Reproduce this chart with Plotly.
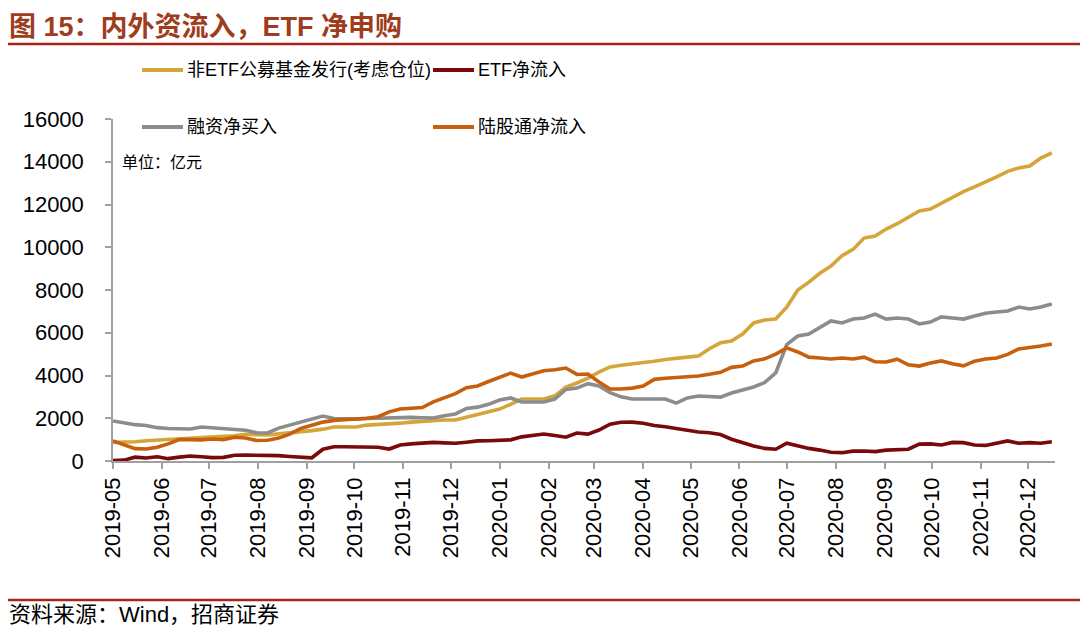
import pandas as pd
import plotly.graph_objects as go

# ---- data (亿元), weekly observations ----
dates = pd.date_range("2019-05-01", periods=86, freq="7D")

fund_issue = [870, 880, 900, 950, 980, 1020, 1080, 1110, 1140, 1150,
              1160, 1180, 1250, 1230, 1220, 1270, 1310, 1370, 1420, 1490,
              1590, 1590, 1590, 1680, 1700, 1730, 1770, 1820, 1860, 1880,
              1920, 1920, 2050, 2200, 2320, 2430, 2650, 2900, 2900, 2900,
              3050, 3460, 3650, 3880, 4160, 4400, 4480, 4530, 4580, 4670,
              4750, 4820, 4860, 4910, 5250, 5530, 5610, 5940, 6460, 6600,
              6640, 7200, 8000, 8370, 8780, 9120, 9600, 9900, 10430, 10520,
              10850, 11100, 11410, 11700, 11790, 12070, 12330, 12600, 12820, 13040,
              13290, 13550, 13710, 13800, 14170, 14410]

etf_flow = [20, 40, 180, 140, 200, 110, 180, 230, 200, 160,
            170, 270, 280, 280, 280, 250, 210, 170, 150, 550,
            670, 670, 670, 670, 640, 560, 750, 800, 830, 870,
            850, 830, 880, 940, 950, 970, 990, 1130, 1200, 1260,
            1190, 1110, 1310, 1260, 1450, 1720, 1810, 1820, 1770, 1660,
            1600, 1510, 1430, 1360, 1320, 1240, 1020, 860, 700, 590,
            550, 830, 700, 590, 510, 410, 390, 460, 470, 440,
            510, 550, 550, 790, 800, 750, 870, 860, 750, 730,
            830, 940, 830, 860, 830, 900]

margin_buy = [1870, 1780, 1700, 1660, 1560, 1520, 1500, 1500, 1590, 1560,
              1520, 1480, 1440, 1320, 1310, 1540, 1680, 1850, 2000, 2100,
              1990, 1960, 1960, 1990, 2010, 2040, 2060, 2040, 2020, 2010,
              2120, 2200, 2460, 2520, 2650, 2850, 2950, 2760, 2760, 2760,
              2900, 3350, 3410, 3620, 3510, 3200, 3000, 2900, 2900, 2900,
              2900, 2710, 2950, 3040, 3010, 2990, 3180, 3320, 3460, 3670,
              4120, 5450, 5850, 5940, 6250, 6550, 6460, 6640, 6690, 6870,
              6640, 6690, 6640, 6410, 6500, 6740, 6690, 6640, 6780, 6910,
              6970, 7020, 7200, 7110, 7200, 7340]

northbound = [940, 760, 580, 560, 640, 800, 1000, 1000, 990, 1030,
              1000, 1110, 1080, 960, 970, 1070, 1260, 1520, 1670, 1820,
              1900, 1930, 1960, 2000, 2070, 2300, 2430, 2460, 2500, 2770,
              2950, 3150, 3430, 3510, 3720, 3920, 4110, 3930, 4090, 4220,
              4270, 4350, 4050, 4070, 3700, 3370, 3370, 3410, 3510, 3820,
              3870, 3910, 3930, 3980, 4060, 4150, 4380, 4440, 4680, 4780,
              5000, 5290, 5100, 4860, 4820, 4770, 4820, 4770, 4860, 4640,
              4630, 4760, 4500, 4440, 4580, 4680, 4550, 4450, 4670, 4770,
              4820, 4990, 5240, 5290, 5380, 5470]

series_names = ["非ETF公募基金发行(考虑仓位)", "ETF净流入", "融资净买入", "陆股通净流入"]
series_vals = [fund_issue, etf_flow, margin_buy, northbound]
colors = ["#D4A63A", "#7A0A0A", "#8C8C8C", "#C7600E"]

tick_dates = pd.date_range("2019-05-01", "2020-12-01", freq="MS")
y_ticks = list(range(0, 16001, 2000))

# ---- layout geometry (pixels) ----
W, H = 1080, 634
L, R, T, B = 113, 1055, 119, 461


def px_x(p):
    return (p - L) / (R - L)


def px_y(p):
    return (B - p) / (B - T)


FONT = "Liberation Sans, Arial, Noto Sans CJK SC, sans-serif"

fig = go.Figure()
for name, vals, col in zip(series_names, series_vals, colors):
    fig.add_trace(go.Scatter(x=dates, y=vals, mode="lines", name=name,
                             line=dict(color=col, width=3.6),
                             showlegend=False))

fig.update_layout(
    width=W, height=H,
    margin=dict(l=L, r=W - R, t=T, b=H - B),
    paper_bgcolor="white", plot_bgcolor="white",
    font=dict(family=FONT, color="black"),
)
fig.update_xaxes(
    type="date", range=["2019-05-01", "2020-12-18"],
    tickvals=tick_dates, tickformat="%Y-%m", tickangle=-90,
    ticks="outside", ticklen=6, tickwidth=1.5, tickcolor="#A0A0A0",
    showline=True, linecolor="#A0A0A0", linewidth=1.5,
    showgrid=False, zeroline=False,
    tickfont=dict(size=22, family=FONT, color="black"),
)
fig.update_yaxes(
    range=[0, 16000], tickvals=y_ticks, tickformat="d",
    ticks="outside", ticklen=6, tickwidth=1.5, tickcolor="#A0A0A0",
    showline=True, linecolor="#A0A0A0", linewidth=1.5,
    showgrid=False, zeroline=False, ticklabelstandoff=17,
    tickfont=dict(size=22, family=FONT, color="black"),
)

shapes = []
annotations = []
legend_pos = [(142, 70), (433, 70), (142, 127), (433, 127)]
for (lx, ly), name, col in zip(legend_pos, series_names, colors):
    shapes.append(dict(type="line", xref="paper", yref="paper",
                       x0=px_x(lx), x1=px_x(lx + 41), y0=px_y(ly), y1=px_y(ly),
                       line=dict(color=col, width=4)))
    annotations.append(dict(text=name, xref="paper", yref="paper",
                            x=px_x(lx + 43), y=px_y(ly), xanchor="left",
                            yanchor="middle", showarrow=False,
                            font=dict(size=18, family=FONT, color="black")))

annotations.append(dict(text="单位：亿元", xref="paper", yref="paper",
                        x=px_x(120), y=px_y(162), xanchor="left", yanchor="middle",
                        showarrow=False,
                        font=dict(size=16, family=FONT, color="black")))

annotations.append(dict(text="<b>图 15：内外资流入，ETF 净申购</b>", xref="paper", yref="paper",
                        x=px_x(7), y=px_y(27), xanchor="left", yanchor="middle",
                        showarrow=False,
                        font=dict(size=27, family=FONT, color="#A03C1E")))
shapes.append(dict(type="line", xref="paper", yref="paper",
                   x0=px_x(8), x1=px_x(1080), y0=px_y(44), y1=px_y(44),
                   line=dict(color="#A8231A", width=2.5)))

shapes.append(dict(type="line", xref="paper", yref="paper",
                   x0=px_x(8), x1=px_x(1080), y0=px_y(600), y1=px_y(600),
                   line=dict(color="#A8231A", width=2.5)))
annotations.append(dict(text="资料来源：Wind，招商证券", xref="paper", yref="paper",
                        x=px_x(7), y=px_y(614), xanchor="left", yanchor="middle",
                        showarrow=False,
                        font=dict(size=22, family=FONT, color="black")))

fig.update_layout(shapes=shapes, annotations=annotations)
fig.write_html("out.html", config={"displayModeBar": False},
               post_script="document.body.style.margin='0';")
